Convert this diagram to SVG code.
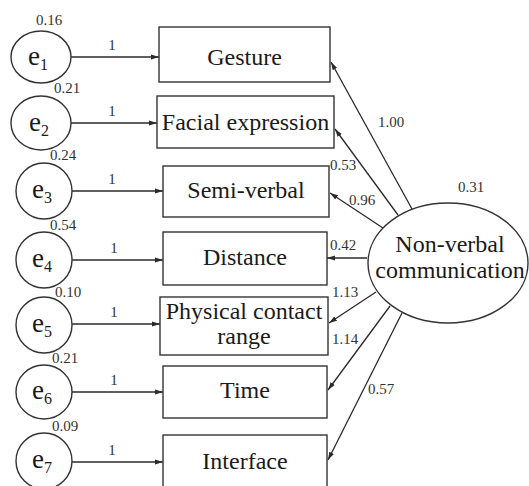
<svg xmlns="http://www.w3.org/2000/svg" width="529" height="486" viewBox="0 0 529 486">
  <style>
    text { font-family: 'Liberation Serif', 'Times New Roman', Times, 'DejaVu Serif', serif; }
    .node { fill: #ffffff; stroke: #333333; stroke-width: 1.4; }
    .lbl { font-size: 24px; fill: #1a1a1a; text-anchor: middle; }
    .num { font-size: 15px; fill: #333333; }
    .err { font-size: 27px; fill: #1a1a1a; }
    .sub { font-size: 16px; }
    .edge { stroke: #2a2a2a; stroke-width: 1.3; fill: none; marker-end: url(#arrow); }
  </style>
  <defs>
    <marker id="arrow" markerUnits="userSpaceOnUse" markerWidth="9" markerHeight="6" refX="8" refY="3" orient="auto">
      <path d="M0,0.5 L8,3 L0,5.5 z" fill="#2a2a2a"/>
    </marker>
  </defs>
  <rect width="529" height="486" fill="#ffffff"/>

  <g font-family="Liberation Serif, Times New Roman, serif">
  <!-- connectors: error terms to indicators, latent factor to indicators -->
  <g id="connectors">
    <line class="edge" x1="71" y1="57" x2="159" y2="57"/>
    <line class="edge" x1="71" y1="123" x2="157" y2="123"/>
    <line class="edge" x1="72" y1="191" x2="163" y2="191"/>
    <line class="edge" x1="72" y1="260" x2="163" y2="260"/>
    <line class="edge" x1="72" y1="324" x2="160" y2="324"/>
    <line class="edge" x1="72" y1="392" x2="163" y2="392"/>
    <line class="edge" x1="72" y1="462" x2="163" y2="462"/>

    <line class="edge" x1="412" y1="209" x2="331" y2="62"/>
    <line class="edge" x1="398" y1="215" x2="335" y2="129"/>
    <line class="edge" x1="383" y1="228" x2="330" y2="193"/>
    <line class="edge" x1="367" y1="258" x2="327" y2="258"/>
    <line class="edge" x1="376" y1="292" x2="329" y2="323"/>
    <line class="edge" x1="390" y1="306" x2="328" y2="390"/>
    <line class="edge" x1="402" y1="313" x2="328" y2="460"/>

    <!-- fixed loadings of error terms -->
    <text class="num" x="112" y="50" text-anchor="middle">1</text>
    <text class="num" x="112" y="116" text-anchor="middle">1</text>
    <text class="num" x="112" y="184" text-anchor="middle">1</text>
    <text class="num" x="114" y="253" text-anchor="middle">1</text>
    <text class="num" x="114" y="317" text-anchor="middle">1</text>
    <text class="num" x="114" y="385" text-anchor="middle">1</text>
    <text class="num" x="112" y="455" text-anchor="middle">1</text>

    <!-- factor loadings -->
    <text class="num" x="378" y="127">1.00</text>
    <text class="num" x="330" y="170">0.53</text>
    <text class="num" x="349" y="205">0.96</text>
    <text class="num" x="330" y="250">0.42</text>
    <text class="num" x="332" y="297">1.13</text>
    <text class="num" x="332" y="344">1.14</text>
    <text class="num" x="368" y="394">0.57</text>
  </g>

  <!-- error terms -->
  <g id="e1">
    <ellipse class="node" cx="41" cy="57" rx="30" ry="26"/>
    <text class="err" x="28" y="65">e<tspan class="sub" dy="5">1</tspan></text>
    <text class="num" x="36" y="25">0.16</text>
  </g>
  <g id="e2">
    <ellipse class="node" cx="41" cy="123" rx="30" ry="27"/>
    <text class="err" x="29" y="131">e<tspan class="sub" dy="5">2</tspan></text>
    <text class="num" x="54" y="93">0.21</text>
  </g>
  <g id="e3">
    <ellipse class="node" cx="44" cy="191" rx="28" ry="28"/>
    <text class="err" x="32" y="198">e<tspan class="sub" dy="5">3</tspan></text>
    <text class="num" x="50" y="160">0.24</text>
  </g>
  <g id="e4">
    <ellipse class="node" cx="44" cy="260" rx="28" ry="28"/>
    <text class="err" x="32" y="267">e<tspan class="sub" dy="5">4</tspan></text>
    <text class="num" x="50" y="230">0.54</text>
  </g>
  <g id="e5">
    <ellipse class="node" cx="44" cy="325" rx="28" ry="28"/>
    <text class="err" x="32" y="332">e<tspan class="sub" dy="5">5</tspan></text>
    <text class="num" x="55" y="297">0.10</text>
  </g>
  <g id="e6">
    <ellipse class="node" cx="44" cy="392" rx="28" ry="27"/>
    <text class="err" x="32" y="399">e<tspan class="sub" dy="5">6</tspan></text>
    <text class="num" x="52" y="363">0.21</text>
  </g>
  <g id="e7">
    <ellipse class="node" cx="44" cy="461" rx="28" ry="28"/>
    <text class="err" x="32" y="468">e<tspan class="sub" dy="5">7</tspan></text>
    <text class="num" x="52" y="431">0.09</text>
  </g>

  <!-- observed indicators -->
  <g id="gesture">
    <rect class="node" x="159" y="27" width="171" height="55"/>
    <text class="lbl" x="244.5" y="65">Gesture</text>
  </g>
  <g id="facial-expression">
    <rect class="node" x="157" y="96" width="177" height="52"/>
    <text class="lbl" x="245.5" y="130">Facial expression</text>
  </g>
  <g id="semi-verbal">
    <rect class="node" x="163" y="166" width="166" height="51"/>
    <text class="lbl" x="246" y="198">Semi-verbal</text>
  </g>
  <g id="distance">
    <rect class="node" x="163" y="232" width="164" height="53"/>
    <text class="lbl" x="245" y="265">Distance</text>
  </g>
  <g id="physical-contact-range">
    <rect class="node" x="160" y="297" width="168" height="58"/>
    <text class="lbl" x="244" y="319">Physical contact</text>
    <text class="lbl" x="244" y="344">range</text>
  </g>
  <g id="time">
    <rect class="node" x="163" y="366" width="164" height="52"/>
    <text class="lbl" x="245" y="398">Time</text>
  </g>
  <g id="interface">
    <rect class="node" x="163" y="435" width="164" height="55"/>
    <text class="lbl" x="245" y="469">Interface</text>
  </g>

  <!-- latent factor -->
  <g id="non-verbal-communication">
    <ellipse class="node" cx="448" cy="263" rx="80" ry="60"/>
    <text class="lbl" x="450" y="252">Non-verbal</text>
    <text class="lbl" x="450" y="278">communication</text>
    <text class="num" x="458" y="192">0.31</text>
  </g>
  </g>
</svg>
